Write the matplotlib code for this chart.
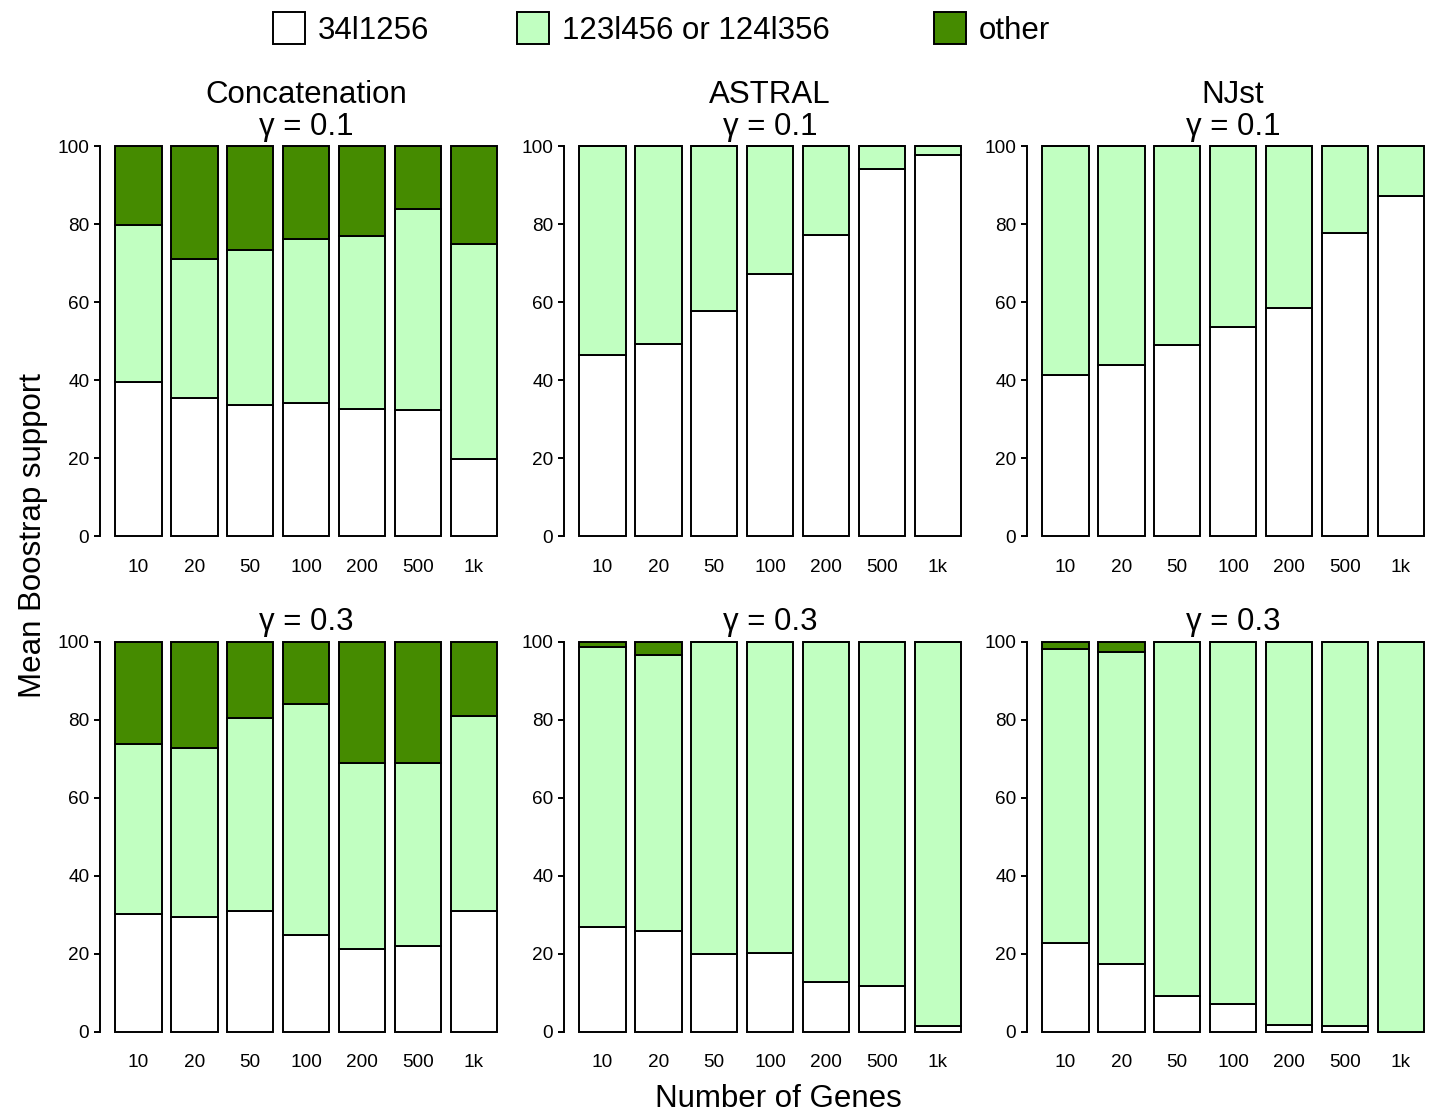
import matplotlib
matplotlib.use("Agg")
import matplotlib.pyplot as plt
from matplotlib.patches import Rectangle
import numpy as np

plt.rcParams["font.family"] = ["Liberation Sans", "DejaVu Sans"]

genes = ["10", "20", "50", "100", "200", "500", "1k"]
methods = ["Concatenation", "ASTRAL", "NJst"]
gammas = ["0.1", "0.3"]
series_names = ["34l1256", "123l456 or 124l356", "other"]
series_colors = ["#FFFFFF", "#C1FFC1", "#458B00"]

# Mean bootstrap support (%) for the true split 34|1256
main_01 = {
    "Concatenation": [39.6, 35.3, 33.7, 34.2, 32.6, 32.4, 19.9],
    "ASTRAL":        [46.4, 49.3, 57.6, 67.1, 77.3, 94.1, 97.8],
    "NJst":          [41.2, 44.0, 48.9, 53.5, 58.6, 77.8, 87.1],
}
main_03 = {
    "Concatenation": [30.2, 29.3, 30.9, 24.9, 21.1, 21.9, 30.9],
    "ASTRAL":        [26.8, 25.7, 20.0, 20.1, 12.7, 11.7, 1.5],
    "NJst":          [22.7, 17.3, 9.1, 7.0, 1.6, 1.4, 0.0],
}
# Support for the alternative splits 123|456 or 124|356
alt_01 = {
    "Concatenation": [40.2, 35.8, 39.6, 41.9, 44.3, 51.4, 55.0],
    "ASTRAL":        [53.6, 50.7, 42.4, 32.9, 22.7, 5.9, 2.2],
    "NJst":          [58.8, 56.0, 51.1, 46.5, 41.4, 22.2, 12.9],
}
alt_03 = {
    "Concatenation": [43.5, 43.5, 49.5, 59.0, 47.8, 47.0, 50.1],
    "ASTRAL":        [71.8, 70.9, 79.8, 79.9, 87.3, 88.3, 98.5],
    "NJst":          [75.4, 80.1, 90.9, 93.0, 98.4, 98.6, 100.0],
}
# Support for any other split
other_01 = {
    "Concatenation": [20.2, 28.9, 26.7, 23.9, 23.1, 16.2, 25.1],
    "ASTRAL":        [0.0, 0.0, 0.0, 0.0, 0.0, 0.0, 0.0],
    "NJst":          [0.0, 0.0, 0.0, 0.0, 0.0, 0.0, 0.0],
}
other_03 = {
    "Concatenation": [26.3, 27.2, 19.6, 16.1, 31.1, 31.1, 19.0],
    "ASTRAL":        [1.4, 3.4, 0.2, 0.0, 0.0, 0.0, 0.0],
    "NJst":          [1.9, 2.6, 0.0, 0.0, 0.0, 0.0, 0.0],
}

data = {
    "0.1": (main_01, alt_01, other_01),
    "0.3": (main_03, alt_03, other_03),
}

W, H = 1433, 1113
fig = plt.figure(figsize=(W / 100, H / 100), dpi=100)

tick_fs = 13.7
big_fs = 22.5
edge_lw = 1.4

# bar layout in the style of R's barplot (width 1, space 0.2)
centers = 0.7 + 1.2 * np.arange(len(genes))
xpad = 0.04 * (centers[-1] + 0.5 - (centers[0] - 0.5))
xlim = (centers[0] - 0.5 - xpad, centers[-1] + 0.5 + xpad)

col_left = [99.7, 563.7, 1026.7]
ax_w = 412.8
row_top = {"0.1": 130.4, "0.3": 625.9}
ax_h = 421.4

for g in gammas:
    main, alt, other = data[g]
    for ci, m in enumerate(methods):
        left = col_left[ci] / W
        bottom = 1 - (row_top[g] + ax_h) / H
        ax = fig.add_axes([left, bottom, ax_w / W, ax_h / H])
        base = np.zeros(len(genes))
        for vals, col in zip((main[m], alt[m], other[m]), series_colors):
            v = np.array(vals, dtype=float)
            ax.bar(centers, v, width=1.0, bottom=base, color=col,
                   edgecolor="black", linewidth=edge_lw, clip_on=False,
                   zorder=2)
            base = base + v
        ax.set_xlim(*xlim)
        ax.set_ylim(-4, 104)
        ax.set_xticks(centers)
        ax.set_xticklabels(genes, fontsize=tick_fs)
        ax.set_yticks([0, 20, 40, 60, 80, 100])
        ax.set_yticklabels(["0", "20", "40", "60", "80", "100"], fontsize=tick_fs)
        ax.tick_params(axis="x", length=0, pad=5)
        ax.tick_params(axis="y", length=4.5, width=edge_lw, pad=3)
        for s in ("top", "right", "bottom"):
            ax.spines[s].set_visible(False)
        ax.spines["left"].set_bounds(0, 100)
        ax.spines["left"].set_linewidth(edge_lw)
        ax.patch.set_visible(False)

        cx = (col_left[ci] + ax_w / 2) / W
        if g == "0.1":
            fig.text(cx, 1 - 95 / H, m, ha="center", va="center", fontsize=big_fs)
            fig.text(cx, 1 - 127 / H, "γ = " + g, ha="center", va="center",
                     fontsize=big_fs)
        else:
            fig.text(cx, 1 - 622 / H, "γ = " + g, ha="center", va="center",
                     fontsize=big_fs)

# legend row across the top
box_x = [273, 517, 934]
for bx, name, col in zip(box_x, series_names, series_colors):
    fig.add_artist(Rectangle((bx / W, 1 - 44 / H), 32 / W, 32 / H,
                             transform=fig.transFigure, facecolor=col,
                             edgecolor="black", linewidth=edge_lw))
    fig.text((bx + 45) / W, 1 - 31 / H, name, ha="left", va="center",
             fontsize=big_fs)

fig.text(778.5 / W, 1 - 1099 / H, "Number of Genes", ha="center", va="center",
         fontsize=big_fs)
fig.text(33 / W, 1 - 535 / H, "Mean Boostrap support", ha="center", va="center",
         rotation=90, fontsize=big_fs)

fig.savefig("out.png", dpi=100, facecolor="white")
